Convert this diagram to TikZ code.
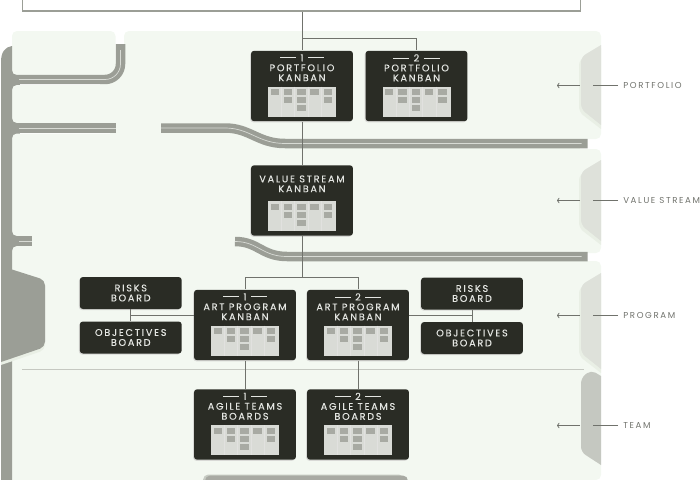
\documentclass[tikz,border=0pt]{standalone}
\usepackage{fontspec}
\usepackage{xcolor}
\usetikzlibrary{arrows.meta,positioning,shadows}
\newfontfamily\boardfont[LetterSpace=18,FakeBold=0.2]{Poppins}
\newfontfamily\levelfamily[LetterSpace=19]{Poppins}
\definecolor{panelgreen}{HTML}{F3F8F1}
\definecolor{roadgray}{HTML}{9B9E96}
\definecolor{roadlight}{HTML}{D8DBD5}
\definecolor{boxdark}{HTML}{2A2C25}
\definecolor{boardlight}{HTML}{D9DBD6}
\definecolor{cardgray}{HTML}{A8AAA3}
\definecolor{linegray}{HTML}{70726C}
\definecolor{tablight}{HTML}{DEE1DA}
\definecolor{tabdark}{HTML}{C5C8C1}
\definecolor{tabedge}{HTML}{E9EFE5}
\colorlet{boxtextcolor}{boardlight!70!white}
\newcommand{\boardtext}{\boardfont\fontsize{5.5}{5.67}\selectfont}
\newcommand{\levelfont}{\levelfamily\fontsize{4.9}{5.67}\selectfont}
\newcommand{\boardnum}[1]{\rule[1.7pt]{9pt}{0.45pt}\hspace{2.6pt}#1\hspace{2.6pt}\rule[1.7pt]{9pt}{0.45pt}}
\tikzset{
    panel/.style={fill=panelgreen,rounded corners=2.8pt},
    road/.style={draw=roadgray,line width=0.19cm},
    roadline/.style={draw=roadlight,line width=0.4pt},
    link/.style={draw=linegray,line width=0.45pt},
    kanbanbox/.style={fill=boxdark,rounded corners=1.8pt,inner sep=0pt,minimum width=2.04cm,
        minimum height=1.41cm,general shadow={shadow xshift=-0.5pt,shadow yshift=-0.6pt,fill=cardgray!45}},
    smallbox/.style={kanbanbox,minimum height=0.64cm,text=boxtextcolor,font=\boardtext,align=center},
    boxtext/.style={anchor=north,inner sep=0pt,text=boxtextcolor,font=\boardtext,align=center},
    levellabel/.style={anchor=west,inner xsep=2.8pt,inner ysep=0pt,text=linegray,font=\levelfont},
}
% small kanban board at the foot of a box
\newcommand{\kanbanboard}[1]{
    \begin{scope}[shift={(#1.south)}]
        \fill[boardlight] (-34,-35) rectangle (34,-5);
        \foreach \cx in {-20.7,-7.3,6,19.3}
            \draw[cardgray!35,line width=0.25pt] (\cx,-35) -- (\cx,-5);
        \foreach \cx/\n in {-31.5/1,-18.2/2,-4.9/3,8.2/1,21.6/2}
            \foreach \r in {1,...,\n}
                \fill[cardgray] (\cx,{-32.2+(\r-1)*8}) rectangle +(8.4,6);
    \end{scope}
}

\begin{document}
\begin{tikzpicture}[x=0.02cm,y=-0.02cm]
    \clip (0,0) rectangle (700,480);

    % Gray behind the left panel corners
    \foreach \ya/\yb in {70/90,118/138,230/252}
        \fill[roadgray] (12,\ya) rectangle (20,\yb);

    % Panels
    \fill[panel] (12,31) rectangle (115.5,75);
    \fill[panel] (12,85) rectangle (130,123);
    \fill[panel] (12,133.5) rectangle (130,236);
    \fill[panel] (12,246) rectangle (130,490);
    \fill[panelgreen] (100,60) rectangle (130,90);
    \fill[panelgreen] (110,118) rectangle (130,138);
    \fill[panelgreen] (28,230) rectangle (130,252);
    \fill[panel] (124,31) rectangle (601,139);
    \fill[panel] (124,149) rectangle (601,253);
    \fill[panel] (124,261) rectangle (601,480);
    \fill[panelgreen] (124,125) rectangle (580,270);

    % Left strip and program tab
    \fill[roadgray] (12,46) .. controls (5,47) and (1,52) .. (1,62) -- (1,480) -- (12,480) -- cycle;
    \fill[tabedge,rounded corners=3pt] (1,268) -- (45,281) -- (45,350) -- (1,365);
    \fill[roadgray,rounded corners=3pt] (1,266) -- (45,280) -- (45,347) -- (1,362);

    % Roads
    \draw[road] (12,79.5) -- (105,79.5) arc[start angle=90,end angle=0,radius=15.5] -- (120.5,44);
    \draw[roadline] (19,79.5) -- (105,79.5) arc[start angle=90,end angle=0,radius=15.5] -- (120.5,50);
    \draw[road] (12,128) -- (115.5,128);
    \draw[roadline] (19,128) -- (115.5,128);
    \draw[road] (161,128) -- (225,128) .. controls (250,128) and (258,143.5) .. (285,143.5) -- (587.5,143.5);
    \draw[roadline] (161,128) -- (225,128) .. controls (250,128) and (258,143.5) .. (285,143.5) -- (581.5,143.5);
    \draw[road] (12,241) -- (32,241);
    \draw[roadline] (19,241) -- (32,241);
    \draw[road] (235,241.5) .. controls (258,241.5) and (262,256.5) .. (287,256.5) -- (587.5,256.5);
    \draw[roadline] (235,241.5) .. controls (258,241.5) and (262,256.5) .. (287,256.5) -- (581.5,256.5);

    % Bottom tab
    \fill[tabedge!85!black,rounded corners=3pt] (203,482) -- (203,474.5) -- (404,474.5) -- (404,482);
    \fill[cardgray,rounded corners=3pt] (205,482) -- (205,475.5) -- (408,475.5) -- (408,482);

    % Right tabs
    \foreach \ya/\yb in {45/127,160/243,273/371}
    {
        \fill[tabedge,rounded corners=3pt] (601,\ya+3) -- (579,\ya+15) -- (579,\yb-15) -- (601,\yb+2);
        \fill[tablight,rounded corners=3pt] (601,\ya) -- (581,\ya+12) -- (581,\yb-18) -- (601,\yb-2);
    }
    \fill[tabdark,rounded corners=3pt] (601,376) -- (591,370) -- (581,378) -- (581,452) -- (601,465);

    % Divider between program and team
    \draw[tabdark,line width=0.45pt] (22,369) -- (584,369);

    % Top box
    \node[draw=roadgray,fill=white,line width=0.6pt,minimum width=11.18cm,minimum height=0.8cm,inner sep=0pt]
        (topbox) at (301.5,-9) {};

    % Kanban boxes
    \node[kanbanbox] (portfolioA) at (302,86) {};
    \node[kanbanbox] (portfolioB) at (416.5,86) {};
    \node[kanbanbox] (stream) at (302,200.5) {};
    \node[kanbanbox] (artA) at (245,325) {};
    \node[kanbanbox] (artB) at (358,325) {};
    \node[kanbanbox] (teamA) at (245,424.5) {};
    \node[kanbanbox] (teamB) at (358,424.5) {};
    \foreach \b in {portfolioA,portfolioB,stream,artA,artB,teamA,teamB}
    {
        \kanbanboard{\b}
    }

    \node[boxtext,below=2pt of portfolioA.north] (portfolioAtext) {\boardnum{1}\\PORTFOLIO\\KANBAN};
    \node[boxtext,below=2pt of portfolioB.north] (portfolioBtext) {\boardnum{2}\\PORTFOLIO\\KANBAN};
    \node[boxtext,below=5.8pt of stream.north] (streamtext) {VALUE STREAM\\KANBAN};
    \node[boxtext,below=2pt of artA.north] (artAtext) {\boardnum{1}\\ART PROGRAM\\KANBAN};
    \node[boxtext,below=2pt of artB.north] (artBtext) {\boardnum{2}\\ART PROGRAM\\KANBAN};
    \node[boxtext,below=2pt of teamA.north] (teamAtext) {\boardnum{1}\\AGILE TEAMS\\BOARDS};
    \node[boxtext,below=2pt of teamB.north] (teamBtext) {\boardnum{2}\\AGILE TEAMS\\BOARDS};

    % Risks and objectives
    \node[smallbox] (risksA) at (130.75,293) {RISKS\\BOARD};
    \node[smallbox] (objectivesA) at (130.75,337.5) {OBJECTIVES\\BOARD};
    \node[smallbox] (risksB) at (472,293.5) {RISKS\\BOARD};
    \node[smallbox] (objectivesB) at (472,338) {OBJECTIVES\\BOARD};

    % Connectors
    \coordinate (portfoliofork) at (302,38);
    \coordinate (artfork) at (302,277.5);
    \coordinate (riskjoinA) at (130.75,315);
    \coordinate (riskjoinB) at (472,315);
    \draw[link] (portfolioA.north |- topbox.south) -- (portfolioA.north);
    \draw[link] (portfoliofork) -| (portfolioB.north);
    \draw[link] (portfolioA.south) -- (stream.north);
    \draw[link] (stream.south) -- (artfork);
    \draw[link] (artA.north) |- (artfork) -| (artB.north);
    \draw[link] (artA.south) -- (teamA.north);
    \draw[link] (artB.south) -- (teamB.north);
    \draw[link] (risksA.south) -- (objectivesA.north);
    \draw[link] (risksB.south) -- (objectivesB.north);
    \draw[link] (riskjoinA) -- (riskjoinA -| artA.west);
    \draw[link] (riskjoinB) -- (riskjoinB -| artB.east);

    % Level labels
    \foreach \lname/\ltext/\ly in {portfolio/PORTFOLIO/85.5,stream/VALUE STREAM/200.5,program/PROGRAM/315.5,team/TEAM/425.5}
    {
        \node[levellabel] (\lname label) at (618,\ly) {\ltext};
        \coordinate (\lname in) at (593,\ly);
        \coordinate (\lname out) at (580,\ly);
        \coordinate (\lname tip) at (557,\ly);
        \draw[link] (\lname label.west) -- (\lname in);
        \draw[link,-{To[length=1.4pt,width=3pt]}] (\lname out) -- (\lname tip);
    }
\end{tikzpicture}
\end{document}
